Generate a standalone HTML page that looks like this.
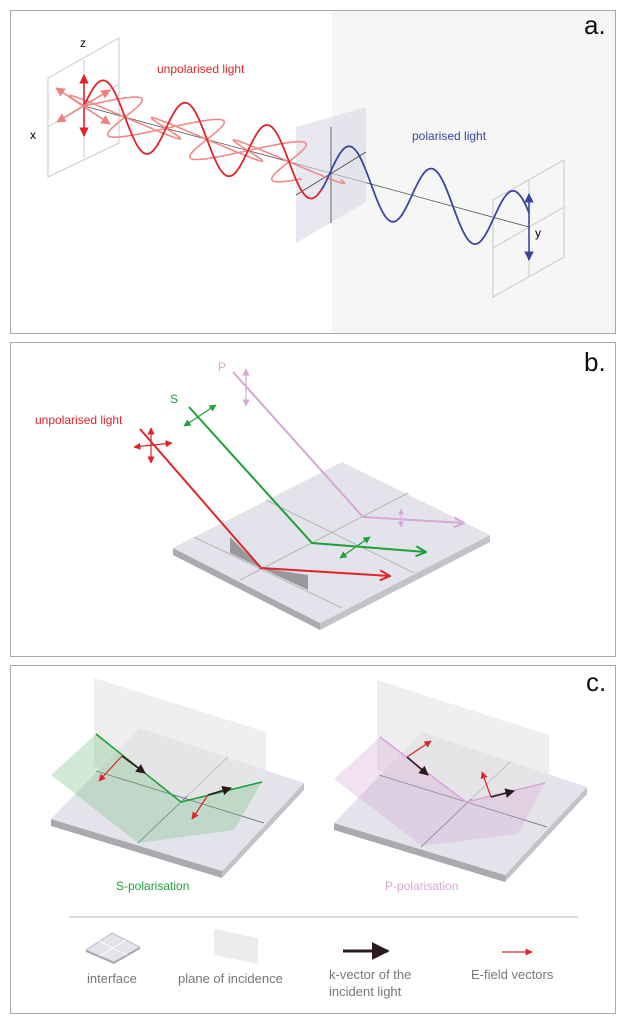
<!DOCTYPE html>
<html><head><meta charset="utf-8"><style>
html,body{margin:0;padding:0;background:#fff}
svg{display:block}
text{font-family:"Liberation Sans",Arial,sans-serif}
</style></head><body>
<svg id="s" width="626" height="1023" viewBox="0 0 626 1023" xmlns="http://www.w3.org/2000/svg">
<defs>
<marker id="ar" viewBox="0 0 10 10" refX="9" refY="5" markerWidth="6" markerHeight="6" orient="auto-start-reverse"><path d="M0,0 L10,5 L0,10 Z" fill="context-stroke"/></marker>
<marker id="ch" viewBox="0 0 12 12" refX="11" refY="6" markerWidth="6" markerHeight="6" orient="auto"><path d="M1,1 L11,6 L1,11" fill="none" stroke="context-stroke" stroke-width="2"/></marker>
</defs>
<!-- Panel a -->
<rect x="332" y="10" width="284" height="323" fill="#f6f6f6"/>
<rect x="10.5" y="10.5" width="605" height="323" fill="none" stroke="#aaa"/>
<text x="584" y="34" font-size="26" fill="#111">a.</text>
<g stroke="#c8c8c8" fill="none" stroke-width="1">
<path d="M48,78 L119,38 L119,143 L48,177 Z"/><path d="M84,60 L84,158 M48,127 L119,84"/>
</g>
<text x="80" y="47" font-size="12">z</text><text x="30" y="139" font-size="12">x</text>
<line x1="84" y1="106" x2="529" y2="227" stroke="#555" stroke-width="0.8"/>
<path d="M296,127 L366,107 L366,202 L296,243 Z" fill="#d8dbe6" opacity="0.6"/>
<path d="M331,127 L331,223 M296,195 L366,152" stroke="#444" stroke-width="0.8"/>
<g stroke="#c8c8c8" fill="none"><path d="M493,200 L564,160 L564,257 L493,297 Z"/><path d="M529,180 L529,277 M493,248 L564,207"/></g>
<path id="pale1" fill="none" stroke="#f08a8a" stroke-width="1.6"/>
<path id="pale2" fill="none" stroke="#f08a8a" stroke-width="1.6"/>
<path id="redw" fill="none" stroke="#e0242a" stroke-width="1.8"/>
<path id="bluew" fill="none" stroke="#3b46a0" stroke-width="1.8"/>
<line x1="84" y1="75" x2="84" y2="136" stroke="#e0242a" stroke-width="1.6" marker-start="url(#ar)" marker-end="url(#ar)"/>
<line x1="56" y1="88" x2="110" y2="124" stroke="#f08080" stroke-width="1.6" marker-start="url(#ar)" marker-end="url(#ar)"/>
<line x1="57" y1="122" x2="110" y2="90" stroke="#f08080" stroke-width="1.6" marker-start="url(#ar)" marker-end="url(#ar)"/>
<line x1="529" y1="194" x2="529" y2="260" stroke="#3b46a0" stroke-width="1.6" marker-start="url(#ar)" marker-end="url(#ar)"/>
<text x="535" y="237" font-size="12">y</text>
<text x="157" y="73" font-size="12" fill="#e0242a">unpolarised light</text>
<text x="412" y="140" font-size="12" fill="#3b46a0">polarised light</text>

<!-- Panel b -->
<rect x="10.5" y="342.5" width="605" height="314" fill="none" stroke="#aaa"/>
<text x="584" y="371" font-size="26" fill="#111">b.</text>
<path d="M173,548 L320,623 L320,630 L173,555 Z" fill="#a9a9ae"/>
<path d="M320,623 L490,535 L490,542 L320,630 Z" fill="#c2c2c8"/>
<path d="M173,548 L342,462 L490,535 L320,623 Z" fill="#e3e3ec"/>
<g stroke="#aaa" stroke-width="0.8"><line x1="194" y1="537" x2="342" y2="608"/><line x1="266" y1="500" x2="414" y2="573"/><line x1="408" y1="493" x2="240" y2="580"/></g>
<path d="M230,537 L230,553 L261,568 Z M261,568 L308,575 L308,590 Z" fill="#999"/>
<polyline points="233,372 363,517 464,523" fill="none" stroke="#d6a8d6" stroke-width="2" marker-end="url(#ch)"/>
<line x1="246" y1="369" x2="246" y2="406" stroke="#d6a8d6" stroke-width="1.2" marker-start="url(#ar)" marker-end="url(#ar)"/>
<line x1="401" y1="509" x2="401" y2="527" stroke="#d6a8d6" stroke-width="1" marker-start="url(#ar)" marker-end="url(#ar)"/>
<polyline points="189,407 312,543 426,552" fill="none" stroke="#1ea03a" stroke-width="2" marker-end="url(#ch)"/>
<line x1="184" y1="426" x2="216" y2="405" stroke="#1ea03a" stroke-width="1.2" marker-start="url(#ar)" marker-end="url(#ar)"/>
<line x1="340" y1="558" x2="370" y2="537" stroke="#1ea03a" stroke-width="1.2" marker-start="url(#ar)" marker-end="url(#ar)"/>
<polyline points="140,429 261,568 390,576" fill="none" stroke="#e0242a" stroke-width="2" marker-end="url(#ch)"/>
<line x1="151" y1="428" x2="151" y2="463" stroke="#e0242a" stroke-width="1.2" marker-start="url(#ar)" marker-end="url(#ar)"/>
<line x1="134" y1="447" x2="172" y2="443" stroke="#e0242a" stroke-width="1.2" marker-start="url(#ar)" marker-end="url(#ar)"/>
<text x="218" y="371" font-size="12" fill="#d6a8d6">P</text>
<text x="170" y="403" font-size="12" fill="#1ea03a">S</text>
<text x="35" y="424" font-size="12" fill="#e0242a">unpolarised light</text>

<!-- Panel c -->
<rect x="10.5" y="665.5" width="605" height="348" fill="none" stroke="#aaa"/>
<text x="586" y="691" font-size="26" fill="#111">c.</text>
<g id="slabL">
<path d="M51,819 L222,871 L222,878 L51,826 Z" fill="#a9a9ae"/>
<path d="M222,871 L304,783 L304,790 L222,878 Z" fill="#c2c2c8"/>
<path d="M51,819 L139,728 L304,783 L222,871 Z" fill="#e3e3ec"/>
<g stroke="#666" stroke-width="0.8"><line x1="96" y1="771" x2="264" y2="823"/><line x1="228" y1="757" x2="138" y2="843"/></g>
</g>
<path d="M94,678 L266,732 L266,820 L94,767 Z" fill="#e6e6e6" opacity="0.65"/>
<path d="M51,775 L96,734 L181,802 L262,782 L234,830 L138,843 Z" fill="#7cc48a" opacity="0.35"/>
<polyline points="96,734 181,802 262,782" fill="none" stroke="#1ea03a" stroke-width="1.6"/>
<g stroke="#2a1a1f" stroke-width="1.6"><line x1="122" y1="756" x2="145" y2="773" marker-end="url(#ar)"/><line x1="208" y1="795" x2="231" y2="788" marker-end="url(#ar)"/></g>
<g stroke="#e0242a" stroke-width="1.2"><line x1="122" y1="756" x2="99" y2="781" marker-end="url(#ar)"/><line x1="208" y1="795" x2="192" y2="819" marker-end="url(#ar)"/></g>
<text x="116" y="890" font-size="12" fill="#1ea03a">S-polarisation</text>

<g transform="translate(283,4)">
<path d="M51,819 L222,871 L222,878 L51,826 Z" fill="#a9a9ae"/>
<path d="M222,871 L304,783 L304,790 L222,878 Z" fill="#c2c2c8"/>
<path d="M51,819 L139,728 L304,783 L222,871 Z" fill="#e3e3ec"/>
<g stroke="#666" stroke-width="0.8"><line x1="96" y1="771" x2="264" y2="823"/><line x1="228" y1="757" x2="138" y2="843"/></g>
</g>
<path d="M377,680 L549,735 L549,823 L377,770 Z" fill="#e6e6e6" opacity="0.65"/>
<path d="M334,779 L380,737 L466,802 L545,783 L518,834 L422,846 Z" fill="#d6a8d6" opacity="0.35"/>
<polyline points="380,737 466,802 545,783" fill="none" stroke="#d6a8d6" stroke-width="1.6"/>
<g stroke="#2a1a1f" stroke-width="1.6"><line x1="407" y1="757" x2="428" y2="775" marker-end="url(#ar)"/><line x1="491" y1="797" x2="514" y2="791" marker-end="url(#ar)"/></g>
<g stroke="#e0242a" stroke-width="1.2"><line x1="407" y1="757" x2="431" y2="741" marker-end="url(#ar)"/><line x1="491" y1="797" x2="482" y2="772" marker-end="url(#ar)"/></g>
<text x="385" y="890" font-size="12" fill="#d6a8d6">P-polarisation</text>

<line x1="69" y1="917" x2="578" y2="917" stroke="#bbb" stroke-width="1"/>
<path d="M86,950 L112,933 L140,947 L114,962 Z" fill="#e3e3ec" stroke="#b5b5be" stroke-width="0.8"/>
<path d="M86,950 L114,962 L114,964 L86,952 Z M114,962 L140,947 L140,949 L114,964Z" fill="#a9a9ae"/>
<path d="M99,941 L127,955 M126,940 L100,956" stroke="#fff" stroke-width="0.8"/>
<path d="M214,929 L258,938 L258,964 L214,955 Z" fill="#ececec"/>
<line x1="343" y1="951" x2="388" y2="951" stroke="#2a1a1f" stroke-width="3" marker-end="url(#ar)"/>
<line x1="502" y1="952" x2="532" y2="952" stroke="#e0242a" stroke-width="1.2" marker-end="url(#ar)"/>
<g font-size="13" fill="#777">
<text x="87" y="983">interface</text>
<text x="178" y="983">plane of incidence</text>
<text x="329" y="979">k-vector of the</text>
<text x="329" y="996">incident light</text>
<text x="471" y="979">E-field vectors</text>
</g>
</svg>
<script>
(function(){
var ox=84,oy=106,sl=121/445,L=82;
function ax(x){return oy+(x-ox)*sl;}
function wave(x0,x1,amp,dx,dy,ph){var d="",n=0;for(var x=x0;x<=x1;x+=1){var t=2*Math.PI*(x-ox)/L+ph;var s=amp*Math.sin(t);var px=x+dx*s,py=ax(x)+dy*s;d+=(n++?"L":"M")+px.toFixed(1)+","+py.toFixed(1);}return d;}
document.getElementById("redw").setAttribute("d",wave(84,322,31,0,-1,0));
document.getElementById("bluew").setAttribute("d",wave(322,529,32,0,-1,0));
document.getElementById("pale1").setAttribute("d",wave(84,322,38,0.93,-0.37,0));
document.getElementById("pale2").setAttribute("d",wave(84,322,36,-0.9,-0.44,0));
})();
</script>
</body></html>
